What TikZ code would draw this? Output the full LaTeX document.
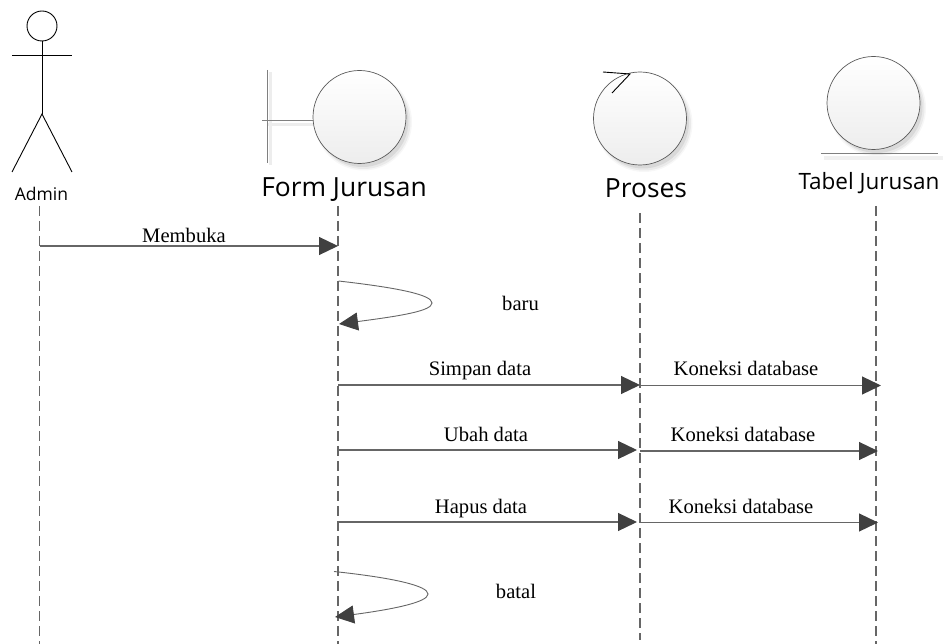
\documentclass[tikz,border=0pt]{standalone}
\usepackage{fontspec}
\setmainfont{Liberation Serif}
\newfontfamily\uisans{Open Sans}
\usetikzlibrary{arrows.meta}
\definecolor{lineg}{HTML}{666666}
\definecolor{headg}{HTML}{404040}
\tikzset{
  x=1pt,y=-1pt,
  lifeline/.style={draw=lineg,line width=1.2pt,dash pattern=on 10pt off 5pt},
  msg/.style={draw=lineg,line width=1.2pt,-{Triangle[length=19pt,width=18pt,fill=headg,color=headg]}},
  selfmsg/.style={draw=lineg,line width=0.9pt,-{Triangle[length=19pt,width=18pt,fill=headg,color=headg]}},
  msglabel/.style={font=\fontsize{20.6}{22}\selectfont,inner sep=0pt,text=black},
  ball/.style={circle,draw=black!65,line width=0.7pt,minimum size=93pt,inner sep=0pt,top color=white,bottom color=black!7},
  stick/.style={draw=black,line width=0.9pt},
  symline/.style={draw=black!50,line width=1pt},
  softline/.style={draw=black!7,line width=3pt},
  title/.style={inner sep=0pt,text=black}
}
\newcommand{\softdisc}[2]{%
  \fill[black,opacity=0.03] (#1+4,#2+5) circle[radius=48.5];
  \fill[black,opacity=0.05] (#1+4,#2+5) circle[radius=47];
  \fill[black,opacity=0.07] (#1+3,#2+4) circle[radius=46];
}
\begin{document}
\begin{tikzpicture}
\useasboundingbox (0,0) rectangle (944,644);
% Actor
\node[circle,draw=black,line width=0.9pt,minimum size=30pt,inner sep=0pt] (head) at (42,26) {};
\coordinate (neck) at (42,114);
\coordinate (armL) at (12,55);
\coordinate (armR) at (72,55);
\coordinate (footL) at (12,172);
\coordinate (footR) at (72,172);
\draw[stick] (head.south) -- (neck);
\draw[stick] (armL) -- (armR);
\draw[stick] (footL) -- (neck) -- (footR);
\node[title,font=\uisans\fontsize{17.5}{20}\selectfont] (adminlbl) at (41.5,194) {Admin};
% Boundary
\softdisc{359.5}{117}
\draw[softline] (270,72) -- (270,165);
\draw[softline] (267,125) -- (319,125);
\coordinate (bTop) at (267,70);
\coordinate (bBot) at (267,163);
\coordinate (bStub) at (262,121);
\draw[symline] (bTop) -- (bBot);
\node[ball] (form) at (359.5,117) {};
\draw[symline] (bStub) -- (form.west |- bStub);
\node[title,font=\uisans\fontsize{26.4}{30}\selectfont] (formlbl) at (344,189.5) {Form Jurusan};
% Control
\softdisc{640}{118.5}
\node[ball] (proc) at (640,118.5) {};
\coordinate (tip) at (630,74);
\coordinate (arrA) at (603,72);
\coordinate (arrB) at (612,93);
\draw[stick] (arrA) -- (tip) -- (arrB);
\node[title,font=\uisans\fontsize{26.4}{30}\selectfont] (proclbl) at (646,188) {Proses};
% Entity
\softdisc{873.5}{103}
\draw[draw=black!6,line width=4pt] (824,158) -- (943,158);
\node[ball] (tabel) at (873.5,103) {};
\coordinate (eL) at (821,154);
\coordinate (eR) at (938,154);
\draw[symline] (eL) -- (eR);
\node[title,font=\uisans\fontsize{22.5}{26}\selectfont] (tabellbl) at (869,183) {Tabel Jurusan};
% Lifelines
\coordinate (aT) at (39.5,206); \coordinate (aB) at (39.5,644);
\coordinate (fT) at (338,206);  \coordinate (fB) at (338,644);
\coordinate (pT) at (640,213);  \coordinate (pB) at (640,640);
\coordinate (tT) at (876,206);  \coordinate (tB) at (876,644);
\draw[lifeline] (aT) -- (aB);
\draw[lifeline] (fT) -- (fB);
\draw[lifeline] (pT) -- (pB);
\draw[lifeline] (tT) -- (tB);
% Messages
\coordinate (m1a) at (39.5,246); \coordinate (m1b) at (338,246);
\draw[msg] (m1a) -- (m1b);
\node[msglabel] (m1) at (184,235.5) {Membuka};
\coordinate (s1a) at (338.5,281); \coordinate (s1b) at (339,324);
\draw[selfmsg] (s1a) .. controls (400,288) and (432,295) .. (432,303) .. controls (432,311) and (400,316) .. (s1b);
\node[msglabel] (s1) at (520.5,303) {baru};
\coordinate (m2a) at (338,385); \coordinate (m2b) at (640,385);
\coordinate (m3a) at (640,385.5); \coordinate (m3b) at (881,385.5);
\draw[msg] (m2a) -- (m2b);
\draw[msg] (m3a) -- (m3b);
\node[msglabel] (m2) at (480,371) {Simpan data};
\node[msglabel] (m3) at (746,368.5) {Koneksi database};
\coordinate (m4a) at (338,450); \coordinate (m4b) at (637,450);
\coordinate (m5a) at (640,451); \coordinate (m5b) at (878,451);
\draw[msg] (m4a) -- (m4b);
\draw[msg] (m5a) -- (m5b);
\node[msglabel] (m4) at (486,434) {Ubah data};
\node[msglabel] (m5) at (743,434) {Koneksi database};
\coordinate (m6a) at (338,522); \coordinate (m6b) at (637,522);
\coordinate (m7a) at (640,522.5); \coordinate (m7b) at (878,522.5);
\draw[msg] (m6a) -- (m6b);
\draw[msg] (m7a) -- (m7b);
\node[msglabel] (m6) at (481,508.5) {Hapus data};
\node[msglabel] (m7) at (741,506) {Koneksi database};
\coordinate (s2a) at (334,571.5); \coordinate (s2b) at (335,617);
\draw[selfmsg] (s2a) .. controls (395,578) and (428,586) .. (428,594) .. controls (428,602) and (395,609) .. (s2b);
\node[msglabel] (s2) at (516,591) {batal};
\end{tikzpicture}
\end{document}
